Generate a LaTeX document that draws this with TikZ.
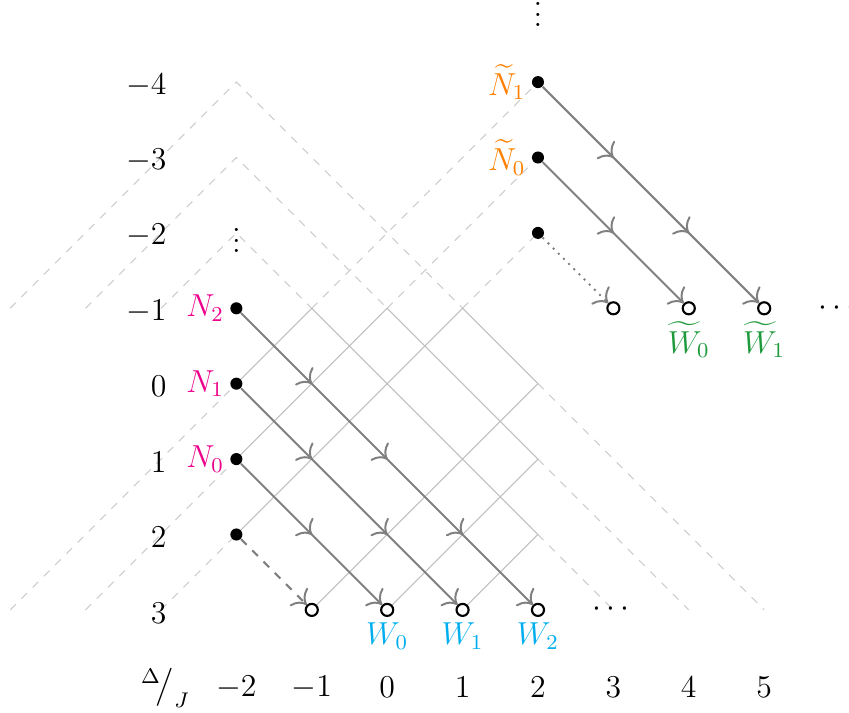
\documentclass[tikz,border=0pt]{standalone}
\usepackage{amsmath}
\usepackage{tikz}
\usetikzlibrary{arrows.meta, decorations.markings}
\definecolor{nmagenta}{HTML}{EC008C}
\definecolor{wcyan}{HTML}{00AEEF}
\definecolor{torange}{HTML}{FF8000}
\definecolor{tgreen}{HTML}{1E9A3C}

\begin{document}
\begin{tikzpicture}[
  font=\large,
  >={To[scale=1.4]},
  grid/.style={gray!50, line width=0.4pt},
  ext/.style={gray!40, dashed, line width=0.4pt},
  dot/.style={circle, fill=black, inner sep=0pt, minimum size=0.16cm},
  hole/.style={circle, draw=black, fill=white, line width=0.8pt, inner sep=0pt, minimum size=0.16cm},
  flow/.style={->, gray, line width=0.75pt},
  mid/.style={postaction={decorate}, decoration={markings,
    mark=between positions 1.334cm and -0.8cm step 1.4142cm with {\arrow{>}}}},
  lab/.style={inner sep=2pt}
]
  \useasboundingbox (-5.135,-4.367) rectangle (6.125,5.089);

  % light cone extensions
  \draw[ext] (-5,1) -- (-2,4) -- (1,1) (2,0) -- (5,-3);
  \draw[ext] (-4,1) -- (-2,3) -- (0,1) (2,-1) -- (4,-3);
  \draw[ext] (-3,1) -- (-2,2) -- (-1,1) (2,-2) -- (3,-3);
  \draw[ext] (-5,-3) -- (-2,0) (-1,1) -- (2,4);
  \draw[ext] (-4,-3) -- (-2,-1) (0,1) -- (2,3);
  \draw[ext] (-3,-3) -- (-2,-2) (1,1) -- (2,2);

  % lattice
  \draw[grid] (-2,0) -- (-1,1) (-2,-1) -- (0,1) (-2,-2) -- (1,1)
              (-1,-3) -- (2,0) (0,-3) -- (2,-1) (1,-3) -- (2,-2)
              (-1,1) -- (2,-2) (0,1) -- (2,-1) (1,1) -- (2,0);

  % sources on the left
  \node[dot, label={[lab, text=nmagenta]left:$N_2$}] (n2) at (-2,1) {};
  \node[dot, label={[lab, text=nmagenta]left:$N_1$}] (n1) at (-2,0) {};
  \node[dot, label={[lab, text=nmagenta]left:$N_0$}] (n0) at (-2,-1) {};
  \node[dot] (nx) at (-2,-2) {};

  % sinks at the bottom
  \node[hole] (wx) at (-1,-3) {};
  \node[hole, label={[lab, text=wcyan]below:$W_0$}] (w0) at (0,-3) {};
  \node[hole, label={[lab, text=wcyan]below:$W_1$}] (w1) at (1,-3) {};
  \node[hole, label={[lab, text=wcyan]below:$W_2$}] (w2) at (2,-3) {};

  % upper branch
  \node[dot, label={[lab, text=torange]left:$\widetilde{N}_1$}] (nt1) at (2,4) {};
  \node[dot, label={[lab, text=torange]left:$\widetilde{N}_0$}] (nt0) at (2,3) {};
  \node[dot] (ntx) at (2,2) {};
  \node[hole] (wtx) at (3,1) {};
  \node[hole, label={[lab, text=tgreen]below:$\widetilde{W}_0$}] (wt0) at (4,1) {};
  \node[hole, label={[lab, text=tgreen]below:$\widetilde{W}_1$}] (wt1) at (5,1) {};

  % flows
  \draw[flow, mid] (n2) -- (w2);
  \draw[flow, mid] (n1) -- (w1);
  \draw[flow, mid] (n0) -- (w0);
  \draw[flow, dashed] (nx) -- (wx);
  \draw[flow, mid] (nt1) -- (wt1);
  \draw[flow, mid] (nt0) -- (wt0);
  \draw[flow, dotted] (ntx) -- (wtx);

  % dots
  \node (vtop) at (2,5) {$\vdots$};
  \node (vleft) at (-2,2) {$\vdots$};
  \node (hbot) at (3,-3) {$\cdots$};
  \node (hright) at (6,1) {$\cdots$};

  % axes
  \foreach \r/\y in {-4/4,-3/3,-2/2,-1/1,0/0,1/-1,2/-2,3/-3}
    \node[anchor=east, inner sep=0pt] (row\y) at (-2.92,\y-0.04) {$\r$};
  \foreach \d in {-2,...,5}
    \node (col\d) at (\d,-4.03) {$\d$};
  \node (axis) at (-2.94,-4.03) {${}^{\Delta}\!\big/_{J}$};
\end{tikzpicture}
\end{document}
